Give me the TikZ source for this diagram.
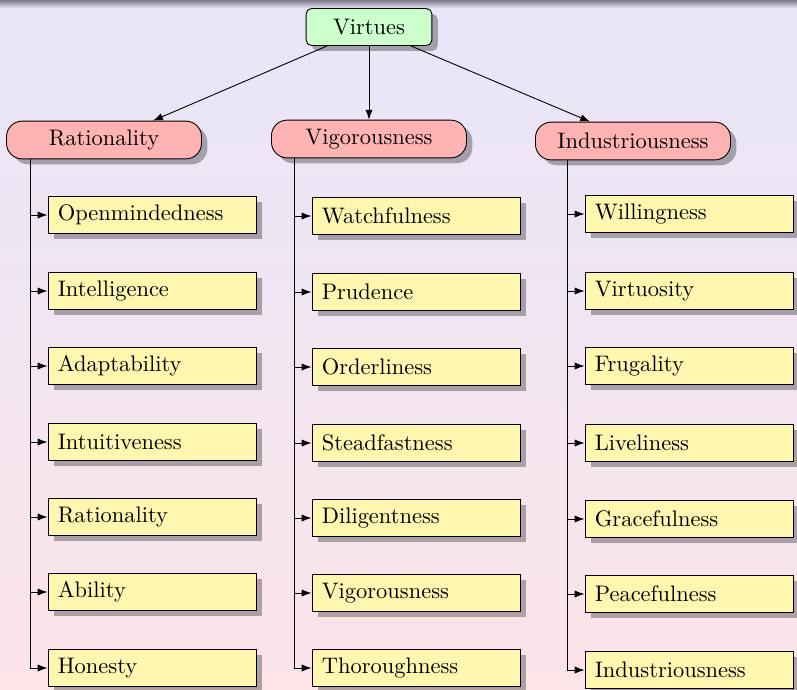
\documentclass[tikz,border=0pt]{standalone}
\usepackage{tikz}
\usetikzlibrary{shadows,arrows.meta}

\definecolor{rootgreen}{RGB}{204,255,204}
\definecolor{headpink}{RGB}{255,179,179}
\definecolor{leafyellow}{RGB}{255,246,176}
\definecolor{bgtop}{RGB}{231,230,249}
\definecolor{bgbottom}{RGB}{252,228,232}
\definecolor{barcolor}{RGB}{128,122,136}

\begin{document}
\begin{tikzpicture}[
        x=0.445pt, y=-0.445pt,
        >={Latex[length=4.4pt,width=3.2pt]},
        shade/.style={drop shadow={shadow xshift=2.6pt,shadow yshift=-2.4pt,fill=black,opacity=0.3}},
        root/.style={draw,fill=rootgreen,rounded corners=2.5pt,minimum width=56pt,minimum height=16.5pt,inner sep=0pt,shade},
        virtue/.style={draw,fill=headpink,rounded corners=7pt,minimum width=86.8pt,minimum height=16.8pt,inner sep=0pt,shade},
        trait/.style={draw,fill=leafyellow,text width=83.8pt,align=left,inner xsep=4.4pt,minimum height=16.5pt,inner ysep=0pt,shade},
        every path/.append style={thin}
    ]
        % slide background
        \shade[top color=bgtop,bottom color=bgbottom] (0,0) rectangle (797,690);
        \foreach \k in {0,...,8}
            \fill[barcolor!\the\numexpr100-12*\k\relax!bgtop] (0,\k) rectangle (797,\k+1.05);
        \useasboundingbox (0,0) rectangle (797,690);

        \node [root] (virtues) at (369,27) {Virtues};

        \node [virtue] (rat) at (104,140) {Rationality};
        \node [virtue] (vig) at (369,139) {Vigorousness};
        \node [virtue] (ind) at (633,141) {Industriousness};

        \draw [->] ([xshift=-18.7pt]virtues.south) -- ([xshift=21.8pt]rat.north);
        \draw [->] (virtues.south) -- (vig.north);
        \draw [->] ([xshift=18.7pt]virtues.south) -- ([xshift=-19.1pt]ind.north);

        % first column
        \node [trait] (r1) at (152,215) {Openmindedness};
        \node [trait] (r2) at (152,291) {Intelligence};
        \node [trait] (r3) at (152,366) {Adaptability};
        \node [trait] (r4) at (152,442) {Intuitiveness};
        \node [trait] (r5) at (152,517) {Rationality};
        \node [trait] (r6) at (152,592) {Ability};
        \node [trait] (r7) at (152,668) {Honesty};

        % second column
        \node [trait] (v1) at (416,216) {Watchfulness};
        \node [trait] (v2) at (416,292) {Prudence};
        \node [trait] (v3) at (416,367) {Orderliness};
        \node [trait] (v4) at (416,443) {Steadfastness};
        \node [trait] (v5) at (416,518) {Diligentness};
        \node [trait] (v6) at (416,593) {Vigorousness};
        \node [trait] (v7) at (416,668) {Thoroughness};

        % third column
        \node [trait] (i1) at (689,214) {Willingness};
        \node [trait] (i2) at (689,291) {Virtuosity};
        \node [trait] (i3) at (689,366) {Frugality};
        \node [trait] (i4) at (689,443) {Liveliness};
        \node [trait] (i5) at (689,519) {Gracefulness};
        \node [trait] (i6) at (689,594) {Peacefulness};
        \node [trait] (i7) at (689,670) {Industriousness};

        \coordinate (rtrunk) at ([xshift=-7.6pt]r1.west |- rat.south);
        \coordinate (vtrunk) at ([xshift=-7.6pt]v1.west |- vig.south);
        \coordinate (itrunk) at ([xshift=-7.6pt]i1.west |- ind.south);

        \draw [->] (rtrunk) |- (r1.west);
        \draw [->] (rtrunk) |- (r2.west);
        \draw [->] (rtrunk) |- (r3.west);
        \draw [->] (rtrunk) |- (r4.west);
        \draw [->] (rtrunk) |- (r5.west);
        \draw [->] (rtrunk) |- (r6.west);
        \draw [->] (rtrunk) |- (r7.west);

        \draw [->] (vtrunk) |- (v1.west);
        \draw [->] (vtrunk) |- (v2.west);
        \draw [->] (vtrunk) |- (v3.west);
        \draw [->] (vtrunk) |- (v4.west);
        \draw [->] (vtrunk) |- (v5.west);
        \draw [->] (vtrunk) |- (v6.west);
        \draw [->] (vtrunk) |- (v7.west);

        \draw [->] (itrunk) |- (i1.west);
        \draw [->] (itrunk) |- (i2.west);
        \draw [->] (itrunk) |- (i3.west);
        \draw [->] (itrunk) |- (i4.west);
        \draw [->] (itrunk) |- (i5.west);
        \draw [->] (itrunk) |- (i6.west);
        \draw [->] (itrunk) |- (i7.west);
    \end{tikzpicture}
\end{document}
